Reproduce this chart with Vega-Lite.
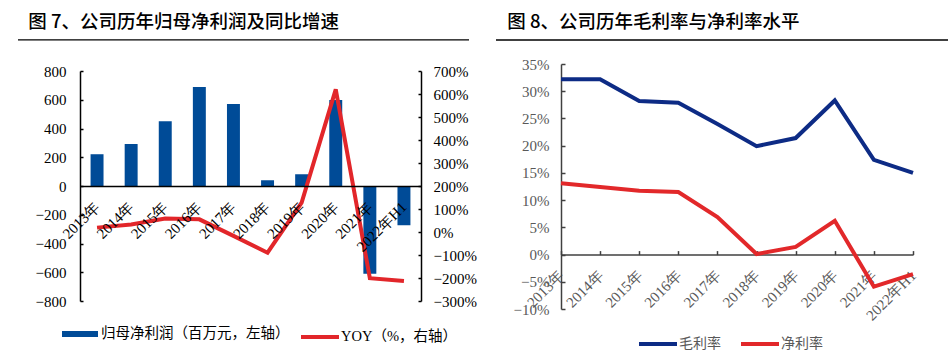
{
  "$schema": "https://vega.github.io/schema/vega-lite/v6.json",
  "background": "white",
  "padding": {"left": 17, "top": 12, "right": 0, "bottom": 0},
  "autosize": {"type": "pad"},
  "spacing": 18,
  "config": {"view": {"stroke": null}, "font": "Liberation Serif"},
  "resolve": {
    "scale": {"x": "independent", "y": "independent", "fill": "independent", "stroke": "independent"},
    "legend": {"fill": "independent", "stroke": "independent"}
  },
  "hconcat": [
    {
      "width": 341,
      "height": 237,
      "title": {"text": "图 7、公司历年归母净利润及同比增速", "anchor": "start", "frame": "bounds", "dx": 11, "offset": 8, "font": "Noto Sans CJK SC", "fontSize": 18.5, "fontWeight": 500, "color": "#000000"},
      "data": {
        "values": [
          {"year": "2013年", "profit": 221, "yoy": 0.19},
          {"year": "2014年", "profit": 292, "yoy": 0.33},
          {"year": "2015年", "profit": 450, "yoy": 0.59},
          {"year": "2016年", "profit": 688, "yoy": 0.55},
          {"year": "2017年", "profit": 571, "yoy": -0.17},
          {"year": "2018年", "profit": 40, "yoy": -0.9},
          {"year": "2019年", "profit": 82, "yoy": 1.28},
          {"year": "2020年", "profit": 599, "yoy": 6.2},
          {"year": "2021年", "profit": -611, "yoy": -2.01},
          {"year": "2022年H1", "profit": -273, "yoy": -2.13}
        ]
      },
      "layer": [
        {
          "mark": {"type": "bar"},
          "encoding": {
            "x": {"field": "year", "type": "nominal", "sort": null,
              "scale": {"type": "band", "paddingInner": 0.62, "paddingOuter": 0.31},
              "axis": {"orient": "bottom", "offset": -115, "zindex": 1, "title": null, "labelAngle": -45, "labelAlign": "right", "labelBaseline": "middle", "ticks": false, "labelPadding": 18, "domainColor": "#000000", "domainWidth": 1.5, "labelColor": "#000000", "labelFont": "Liberation Serif", "labelFontSize": 15}},
            "y": {"field": "profit", "type": "quantitative",
              "scale": {"domain": [-800, 800], "range": [237, 7], "nice": false, "zero": false},
              "axis": {"orient": "left", "values": [-800, -600, -400, -200, 0, 200, 400, 600, 800], "title": null, "grid": false, "tickSize": -3, "tickColor": "#000000", "tickWidth": 1.5, "labelPadding": 17, "domainColor": "#000000", "domainWidth": 1.5, "labelColor": "#000000", "labelFont": "Liberation Serif", "labelFontSize": 15}},
            "fill": {"datum": "归母净利润（百万元，左轴）", "type": "nominal", "scale": {"range": ["#004b97"]},
              "legend": {"title": null, "orient": "none", "legendX": -18, "legendY": 252, "direction": "horizontal", "padding": 0, "symbolType": "M-1,-0.17H1V0.17H-1Z", "symbolSize": 1296, "symbolStrokeWidth": 0, "labelFontSize": 14.5, "labelOffset": 3, "labelLimit": 400, "labelFont": "Liberation Serif, Noto Sans CJK SC", "labelColor": "#000000"}}
          }
        },
        {
          "mark": {"type": "line", "strokeWidth": 4},
          "encoding": {
            "x": {"field": "year", "type": "nominal", "sort": null,
              "scale": {"type": "band", "paddingInner": 0.62, "paddingOuter": 0.31}, "axis": null},
            "y": {"field": "yoy", "type": "quantitative",
              "scale": {"domain": [-3, 7], "range": [237, 7], "nice": false, "zero": false},
              "axis": {"orient": "right", "format": ".0%", "values": [-3, -2, -1, 0, 1, 2, 3, 4, 5, 6, 7], "title": null, "grid": false, "tickSize": -3, "tickColor": "#000000", "tickWidth": 1.5, "labelPadding": 15, "domainColor": "#000000", "domainWidth": 1.5, "labelColor": "#000000", "labelFont": "Liberation Serif", "labelFontSize": 15}},
            "stroke": {"datum": "YOY（%，右轴）", "type": "nominal", "scale": {"range": ["#e2262a"]},
              "legend": {"title": null, "orient": "none", "legendX": 219, "legendY": 252, "direction": "horizontal", "padding": 0, "symbolType": "stroke", "symbolSize": 1444, "symbolStrokeWidth": 4, "labelFontSize": 14.5, "labelOffset": 0, "labelLimit": 400, "labelFont": "Liberation Serif, Noto Sans CJK SC", "labelColor": "#000000"}}
          }
        },
        {
          "data": {"values": [{}]},
          "mark": {"type": "rule", "color": "#000000", "strokeWidth": 1.3},
          "encoding": {
            "x": {"datum": -0.1818, "type": "quantitative", "scale": {"domain": [0, 1], "nice": false}, "axis": null},
            "x2": {"datum": 1.1408},
            "y": {"datum": 1016, "type": "quantitative", "scale": {"domain": [-800, 800], "range": [237, 7], "nice": false}, "axis": null}
          }
        }
      ],
      "resolve": {"scale": {"x": "independent", "y": "independent"}}
    },
    {
      "width": 352,
      "height": 245,
      "title": {"text": "图 8、公司历年毛利率与净利率水平", "anchor": "start", "frame": "bounds", "dx": 12, "offset": 8, "font": "Noto Sans CJK SC", "fontSize": 18.5, "fontWeight": 500, "color": "#000000"},
      "layer": [
        {
          "data": {
            "values": [
              {"year": "2013年", "series": "毛利率", "value": 0.322},
              {"year": "2014年", "series": "毛利率", "value": 0.322},
              {"year": "2015年", "series": "毛利率", "value": 0.282},
              {"year": "2016年", "series": "毛利率", "value": 0.279},
              {"year": "2017年", "series": "毛利率", "value": 0.240},
              {"year": "2018年", "series": "毛利率", "value": 0.199},
              {"year": "2019年", "series": "毛利率", "value": 0.214},
              {"year": "2020年", "series": "毛利率", "value": 0.283},
              {"year": "2021年", "series": "毛利率", "value": 0.174},
              {"year": "2022年H1", "series": "毛利率", "value": 0.150},
              {"year": "2013年", "series": "净利率", "value": 0.131},
              {"year": "2014年", "series": "净利率", "value": 0.124},
              {"year": "2015年", "series": "净利率", "value": 0.117},
              {"year": "2016年", "series": "净利率", "value": 0.115},
              {"year": "2017年", "series": "净利率", "value": 0.069},
              {"year": "2018年", "series": "净利率", "value": 0.001},
              {"year": "2019年", "series": "净利率", "value": 0.014},
              {"year": "2020年", "series": "净利率", "value": 0.062},
              {"year": "2021年", "series": "净利率", "value": -0.059},
              {"year": "2022年H1", "series": "净利率", "value": -0.036}
            ]
          },
          "mark": {"type": "line", "strokeWidth": 4},
          "encoding": {
            "x": {"field": "year", "type": "nominal", "sort": null,
              "scale": {"type": "point", "padding": 0},
              "axis": {"orient": "bottom", "offset": -54.4, "title": null, "labelAngle": -45, "labelAlign": "right", "labelBaseline": "middle", "tickSize": -4, "tickColor": "#404040", "tickWidth": 1.5, "labelPadding": 22, "domainColor": "#404040", "domainWidth": 1.5, "labelColor": "#595959", "labelFont": "Liberation Serif", "labelFontSize": 15}},
            "y": {"field": "value", "type": "quantitative",
              "scale": {"domain": [-0.1, 0.35], "nice": false, "zero": false},
              "axis": {"orient": "left", "format": ".0%", "values": [-0.1, -0.05, 0, 0.05, 0.1, 0.15, 0.2, 0.25, 0.3, 0.35], "title": null, "grid": false, "tickSize": -4, "tickColor": "#404040", "tickWidth": 1.5, "labelPadding": 16, "domainColor": "#404040", "domainWidth": 1.5, "labelColor": "#595959", "labelFont": "Liberation Serif", "labelFontSize": 15}},
            "stroke": {"field": "series", "type": "nominal",
              "scale": {"domain": ["毛利率", "净利率"], "range": ["#0d2b85", "#e2282a"]},
              "legend": {"title": null, "orient": "none", "legendX": 76, "legendY": 259, "direction": "horizontal", "padding": 0, "columnPadding": 12, "symbolType": "stroke", "symbolSize": 1444, "symbolStrokeWidth": 4, "labelFontSize": 14, "labelOffset": 0, "labelFont": "Liberation Serif, Noto Sans CJK SC", "labelColor": "#595959"}}
          }
        },
        {
          "data": {"values": [{}]},
          "mark": {"type": "rule", "color": "#000000", "strokeWidth": 1.3},
          "encoding": {
            "x": {"datum": -0.1847, "type": "quantitative", "scale": {"domain": [0, 1], "nice": false}, "axis": null},
            "x2": {"datum": 1.0994},
            "y": {"datum": 0.3941, "type": "quantitative", "scale": {"domain": [-0.1, 0.35], "nice": false}, "axis": null}
          }
        }
      ],
      "resolve": {"scale": {"x": "independent", "y": "independent"}}
    }
  ]
}
